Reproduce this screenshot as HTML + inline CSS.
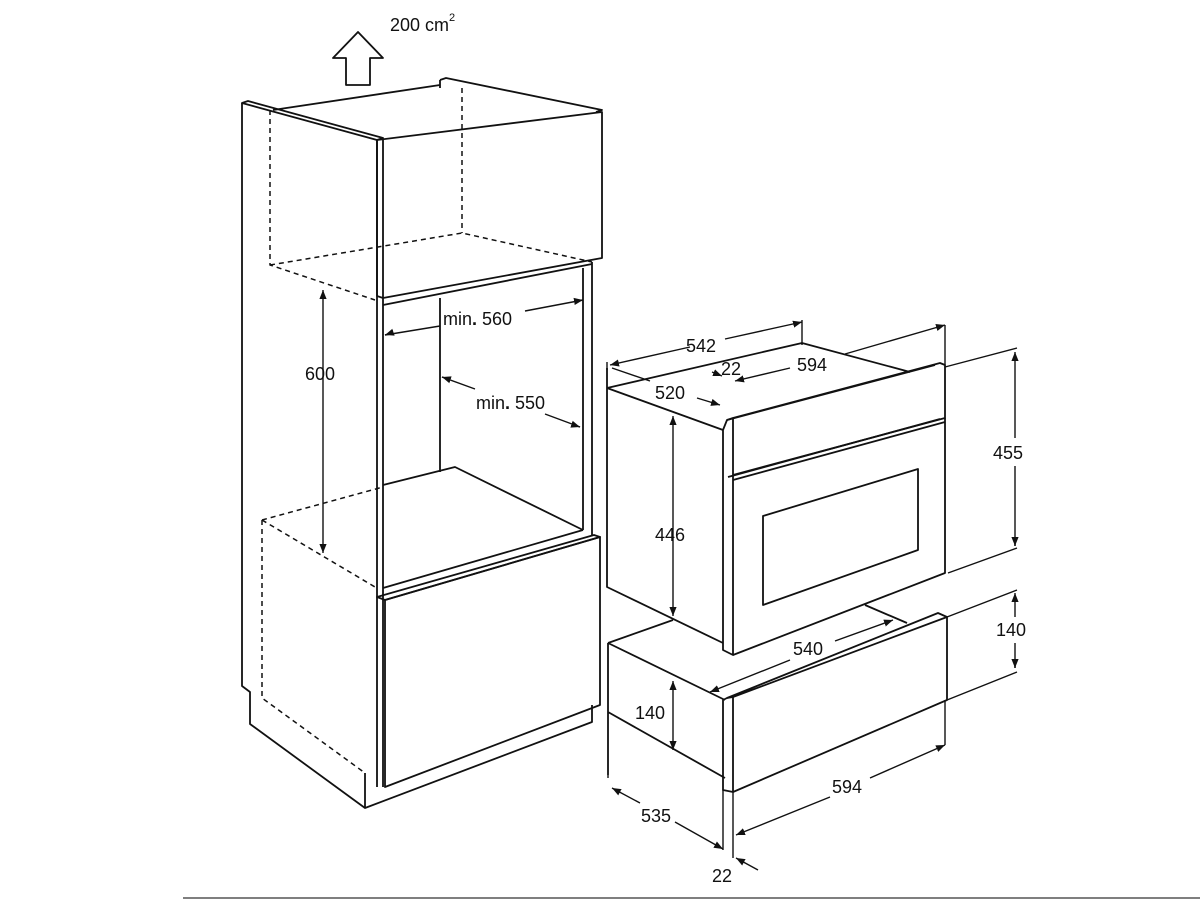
<!DOCTYPE html>
<html><head><meta charset="utf-8"><style>
html,body{margin:0;padding:0;background:#fff;}
svg{display:block;}
text{font-family:"Liberation Sans",Arial,sans-serif;font-size:18px;fill:#111;}
</style></head><body>
<svg width="1200" height="900" viewBox="0 0 1200 900" xmlns="http://www.w3.org/2000/svg">
<defs>
<marker id="a" viewBox="0 0 10 10" refX="10" refY="5" markerWidth="9" markerHeight="9" orient="auto-start-reverse" markerUnits="userSpaceOnUse">
<path d="M0,1 L10,5 L0,9 z" fill="#111"/></marker>
</defs>
<g fill="none" stroke="#111" stroke-width="1.8" stroke-linejoin="round">
<path d="M358,32 L333,58 L346,58 L346,85 L370,85 L370,58 L383,58 Z"/>
<path d="M242,103 L242,686 L250,692 L250,724 L365,808 L592,722 L592,705"/>
<path d="M365,808 L365,773"/>
<path d="M242,103 L248,101 L383,138 L377,140 Z"/>
<path d="M440,80 L446,78 L602,110 L596,112"/>
<path d="M440,80 L440,88 M273,110 L440,85"/>
<path d="M377,140 L602,112 L602,258 L383,298 L377,296 Z"/>
<path d="M383,140 L383,787 M377,140 L377,787"/>
<path d="M583,268 L583,530 M592,262 L592,535"/>
<path d="M383,305 L592,264"/>
<path d="M440,298 L440,472"/>
<path d="M383,485 L455,467 L583,530"/>
<path d="M383,588 L583,530"/>
<path d="M377,597 L594,535 L600,537 L385,600 Z"/>
<path d="M385,600 L600,537 L600,705 L385,787 Z"/>
</g>
<g fill="none" stroke="#111" stroke-width="1.5" stroke-dasharray="5,4">
<path d="M270,110 L270,265 L375,300"/>
<path d="M270,265 L462,233 L592,262"/>
<path d="M462,88 L462,233"/>
<path d="M262,520 L383,487"/>
<path d="M262,520 L375,587"/>
<path d="M262,520 L262,698 L365,773"/>
</g>
<g fill="none" stroke="#111" stroke-width="1.8" stroke-linejoin="round">
<path d="M607,368 L607,587 L723,643"/>
<path d="M607,388 L723,430 M607,388 L802,343 L910,372"/>
<path d="M723,430 L723,650 L733,655 L733,418 L727,420 Z"/>
<path d="M733,418 L940,363 L945,365 L945,418 L733,475"/>
<path d="M727,420 L935,365"/>
<path d="M733,480 L945,422 M728,477 L940,419"/>
<path d="M945,418 L945,573 L733,655"/>
<path d="M763,516 L918,469 L918,550 L763,605 Z"/>
<path d="M608,643 L608,775 M608,643 L673,620 M608,643 L725,700 M608,712 L725,778"/>
<path d="M865,605 L907,623"/>
<path d="M723,700 L723,790 L733,792 L733,697 L727,698 Z"/>
<path d="M727,698 L938,613 L947,617 L733,697"/>
<path d="M947,617 L947,700 L733,792"/>
</g>
<g fill="none" stroke="#111" stroke-width="1.4">
<path d="M323,290 L323,553" marker-start="url(#a)" marker-end="url(#a)"/>
<path d="M385,335 L440,326 M525,311 L583,300" />
<path d="M385,335 L388,334" marker-start="url(#a)"/>
<path d="M580,300.5 L583,300" marker-end="url(#a)"/>
<path d="M442,377 L475,389 M545,414 L580,427"/>
<path d="M445,378 L442,377" marker-end="url(#a)"/>
<path d="M577,426 L580,427" marker-end="url(#a)"/>
<path d="M610,365 L690,347 M725,339 L802,322" marker-start="url(#a)"/>
<path d="M798,323 L802,322" marker-end="url(#a)"/>
<path d="M802,320 L802,345 M607,362 L607,370"/>
<path d="M612,368 L650,381 M697,398 L720,405" marker-end="url(#a)"/>
<path d="M712,372 L722,376" marker-end="url(#a)"/>
<path d="M735,381 L790,368 M845,354 L945,325" marker-start="url(#a)" marker-end="url(#a)"/>
<path d="M945,325 L945,365 M945,367 L1017,348 M948,573 L1017,548"/>
<path d="M1015,352 L1015,438 M1015,466 L1015,546" marker-start="url(#a)"/>
<path d="M1015,544 L1015,546" marker-end="url(#a)"/>
<path d="M673,416 L673,616" marker-start="url(#a)" marker-end="url(#a)"/>
<path d="M710,692 L790,660 M835,641 L893,620" marker-start="url(#a)" marker-end="url(#a)"/>
<path d="M947,617 L1017,590 M947,700 L1017,672"/>
<path d="M1015,593 L1015,617 M1015,643 L1015,668" marker-start="url(#a)"/>
<path d="M1015,666 L1015,668" marker-end="url(#a)"/>
<path d="M673,681 L673,750" marker-start="url(#a)" marker-end="url(#a)"/>
<path d="M608,775 L608,778 M723,790 L723,850 M733,792 L733,858"/>
<path d="M612,788 L640,803 M675,822 L723,849" marker-start="url(#a)" marker-end="url(#a)"/>
<path d="M736,835 L830,797 M870,778 L945,745" marker-start="url(#a)" marker-end="url(#a)"/>
<path d="M945,700 L945,745"/>
<path d="M758,870 L736,858" marker-end="url(#a)"/>
</g>
<line x1="183" y1="898" x2="1200" y2="898" stroke="#555" stroke-width="1.5"/>
<text x="390" y="31">200 cm</text><text x="449" y="21" style="font-size:11px">2</text>
<text x="305" y="380">600</text>
<text x="443" y="325">min<tspan style="font-weight:bold">.</tspan> 560</text>
<text x="476" y="409">min<tspan style="font-weight:bold">.</tspan> 550</text>
<text x="686" y="352">542</text>
<text x="721" y="375">22</text>
<text x="797" y="371">594</text>
<text x="655" y="399">520</text>
<text x="993" y="459">455</text>
<text x="655" y="541">446</text>
<text x="793" y="655">540</text>
<text x="996" y="636">140</text>
<text x="635" y="719">140</text>
<text x="641" y="822">535</text>
<text x="832" y="793">594</text>
<text x="712" y="882">22</text>
</svg>
</body></html>
